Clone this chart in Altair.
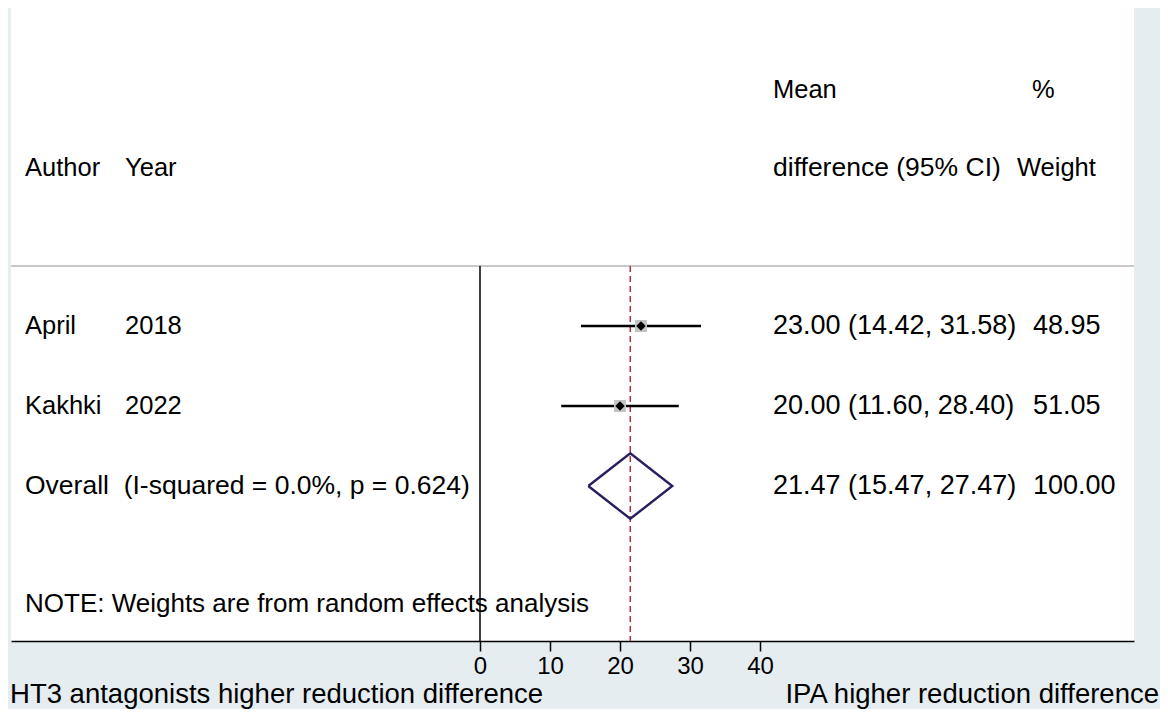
import altair as alt
import pandas as pd

# ---------------- data ----------------
authors = ["April", "Kakhki"]
years = ["2018", "2022"]
md = [23.00, 20.00]
lo = [14.42, 11.60]
hi = [31.58, 28.40]
weights = ["48.95", "51.05"]
ci_text = ["23.00 (14.42, 31.58)", "20.00 (11.60, 28.40)"]
overall_md = 21.47
overall_lo = 15.47
overall_hi = 27.47
overall_ci_text = "21.47 (15.47, 27.47)"
overall_weight = "100.00"
overall_label = "Overall\u00a0\u00a0(I-squared = 0.0%, p = 0.624)"
note = "NOTE: Weights are from random effects analysis"
tick_values = [0, 10, 20, 30, 40]
left_title = "HT3 antagonists higher reduction difference"
right_title = "IPA higher reduction difference"

# ---------------- layout ----------------
FONT = "Liberation Sans"
FS = 25.5      # letter text
FS_NUM = 27    # numeric columns
FS_TITLE = 27.5
X_MIN, X_MAX = -67.0, 93.43
R_TOP, R_BOT = -2.975, 4.9375
W, H = 1123, 633
COL_AUTHOR, COL_YEAR, COL_CI, COL_W = -65.0, -50.71, 41.86, 79.0
R_HEAD1, R_HEAD2, R_SEP, R_OVERALL, R_NOTE = -1.95, -0.975, 0.25, 3, 4.475
R_XTITLE = 5.71
DIAMOND_H = 0.41

xs = alt.Scale(domain=[X_MIN, X_MAX], nice=False, zero=False)
ys = alt.Scale(domain=[R_TOP, R_BOT], nice=False, zero=False, reverse=True)
AX = alt.Axis(values=tick_values, title=None, grid=False,
              labelFont=FONT, labelFontSize=24, labelColor="black",
              tickColor="black", tickSize=10, tickWidth=1.5,
              domainColor="black", domainWidth=1.5,
              labelPadding=3, labelFlush=False, labelOverlap=False)

rows = list(range(1, len(authors) + 1))
studies = pd.DataFrame({"author": authors, "year": years, "md": md, "lo": lo, "hi": hi,
                        "w": weights, "ci": ci_text, "r": rows})

# text table
texts = []
texts += [dict(x=COL_CI, r=R_HEAD1, t="Mean", fs=FS),
          dict(x=78.86, r=R_HEAD1, t="%", fs=FS),
          dict(x=COL_AUTHOR, r=R_HEAD2, t="Author", fs=FS),
          dict(x=COL_YEAR, r=R_HEAD2, t="Year", fs=FS),
          dict(x=COL_CI, r=R_HEAD2, t="difference (95% CI)", fs=26.5),
          dict(x=76.71, r=R_HEAD2, t="Weight", fs=FS)]
for i in range(len(authors)):
    texts += [dict(x=COL_AUTHOR, r=rows[i], t=authors[i], fs=FS),
              dict(x=COL_YEAR, r=rows[i], t=years[i], fs=FS),
              dict(x=COL_CI, r=rows[i], t=ci_text[i], fs=FS_NUM),
              dict(x=COL_W, r=rows[i], t=weights[i], fs=FS_NUM)]
texts += [dict(x=COL_AUTHOR, r=R_OVERALL, t=overall_label, fs=26.5),
          dict(x=COL_CI, r=R_OVERALL, t=overall_ci_text, fs=FS_NUM),
          dict(x=COL_W, r=R_OVERALL, t=overall_weight, fs=FS_NUM),
          dict(x=COL_AUTHOR, r=R_NOTE, t=note, fs=26)]
text_df = pd.DataFrame(texts)

title_df = pd.DataFrame([dict(x=-67.14, r=R_XTITLE, t=left_title),
                         dict(x=97.0, r=R_XTITLE, t=right_title)])

X = lambda f: alt.X(f, scale=xs, axis=AX)
Y = lambda f: alt.Y(f, scale=ys, axis=None)

sep = alt.Chart(pd.DataFrame({"a": [X_MIN], "b": [X_MAX], "r": [R_SEP]})).mark_rule(
    color="#C8C8C8", strokeWidth=2).encode(x=X("a:Q"), x2="b:Q", y=Y("r:Q"))

zero_line = alt.Chart(pd.DataFrame({"x": [0], "r1": [R_SEP], "r2": [R_BOT]})).mark_rule(
    color="black", strokeWidth=1.5).encode(x=X("x:Q"), y=Y("r1:Q"), y2="r2:Q")

ref_line = alt.Chart(pd.DataFrame({"x": [overall_md], "r1": [R_SEP], "r2": [R_BOT]})).mark_rule(
    color="#B03040", strokeWidth=1.5, strokeDash=[6, 4]).encode(x=X("x:Q"), y=Y("r1:Q"), y2="r2:Q")

ci = alt.Chart(studies).mark_rule(color="black", strokeWidth=2.4).encode(
    x=X("lo:Q"), x2="hi:Q", y=Y("r:Q"))

boxes = alt.Chart(studies).mark_square(color="#C4C4C4", opacity=1, size=144).encode(
    x=X("md:Q"), y=Y("r:Q"))

pts = alt.Chart(studies).mark_point(shape="diamond", filled=True, color="black",
                                    opacity=1, size=90).encode(x=X("md:Q"), y=Y("r:Q"))

dia_df = pd.DataFrame({
    "x": [overall_lo, overall_md, overall_hi, overall_md, overall_lo],
    "r": [R_OVERALL, R_OVERALL - DIAMOND_H, R_OVERALL, R_OVERALL + DIAMOND_H, R_OVERALL],
    "o": [0, 1, 2, 3, 4]})
diamond = alt.Chart(dia_df).mark_line(color="#2B1E5E", strokeWidth=2.4).encode(
    x=X("x:Q"), y=Y("r:Q"), order="o:Q")

txt = alt.Chart(text_df).mark_text(font=FONT, color="black", align="left",
                                   baseline="middle").encode(
    x=X("x:Q"), y=Y("r:Q"), text="t:N", size=alt.Size("fs:Q", scale=None, legend=None))

ttl_l = alt.Chart(title_df.iloc[[0]]).mark_text(font=FONT, fontSize=FS_TITLE, color="black",
                                               align="left", baseline="alphabetic").encode(
    x=X("x:Q"), y=Y("r:Q"), text="t:N")
ttl_r = alt.Chart(title_df.iloc[[1]]).mark_text(font=FONT, fontSize=FS_TITLE, color="black",
                                               align="right", baseline="alphabetic").encode(
    x=X("x:Q"), y=Y("r:Q"), text="t:N")

chart = alt.layer(sep, zero_line, ref_line, ci, boxes, pts, diamond, txt,
                  ttl_l, ttl_r).properties(
    width=W, height=H,
    autosize=alt.AutoSizeParams(type="none"),
    padding={"left": 3, "top": 0, "right": 26, "bottom": 68},
    background="#E5EDF0",
).configure_view(fill="white", stroke=None)

chart.save("out.html", embed_options={"renderer": "svg", "actions": False})
